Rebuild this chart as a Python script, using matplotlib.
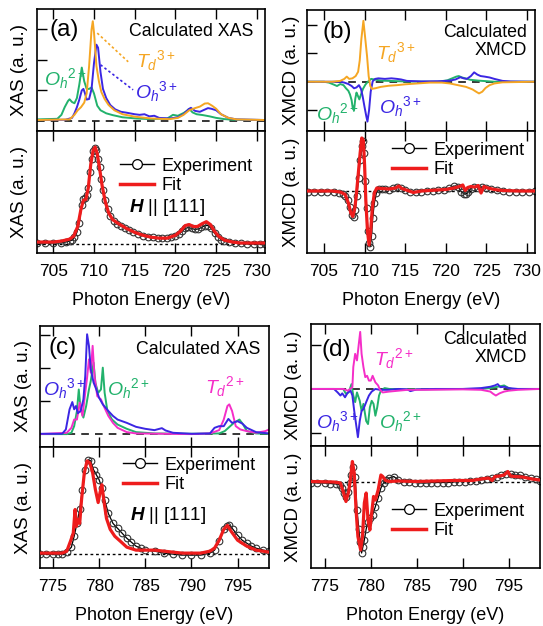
import matplotlib
matplotlib.use('Agg')
import matplotlib.pyplot as plt
from matplotlib.lines import Line2D

plt.rcParams['font.family'] = ['Liberation Sans', 'DejaVu Sans']
plt.rcParams['mathtext.fontset'] = 'custom'
plt.rcParams['mathtext.rm'] = 'Liberation Sans'
plt.rcParams['mathtext.it'] = 'Liberation Sans:italic'
plt.rcParams['mathtext.bf'] = 'Liberation Sans:italic:bold'

GREEN = '#22b26c'
ORANGE = '#f5a623'
BLUE = '#3b26e3'
MAGENTA = '#f52ec8'
RED = '#ee1c1c'

# ---------------- (a) Fe L-edge calculated XAS ----------------
a_oh2_e = [703.0, 705.5, 706.0, 706.4, 706.8, 707.0, 707.3, 707.6, 707.9, 708.2, 708.5, 708.8, 709.1,
           709.4, 709.7, 710.0, 710.4, 710.8, 711.5, 712.3, 713.5, 715.2, 717.0, 719.0, 719.7, 720.3,
           721.0, 721.4, 721.7, 722.1, 722.6, 723.4, 724.2, 725.0, 726.0, 727.0, 731.0]
a_oh2 = [0.05, 0.07, 0.2, 0.45, 0.65, 0.71, 0.62, 0.58, 0.75, 1.2, 1.75, 1.3, 1.05,
         1.05, 1.1, 0.9, 0.5, 0.35, 0.25, 0.19, 0.12, 0.08, 0.06, 0.08, 0.2, 0.17,
         0.26, 0.33, 0.4, 0.28, 0.22, 0.19, 0.15, 0.1, 0.06, 0.04, 0.03]
a_oh3_e = [703.0, 706.5, 707.3, 707.6, 707.9, 708.2, 708.5, 708.7, 708.9, 709.1, 709.4, 709.7, 710.0,
           710.3, 710.5, 710.8, 711.1, 711.5, 712.0, 712.6, 713.3, 714.0, 715.0, 715.6, 716.2, 716.8,
           717.4, 718.0, 719.3, 720.3, 721.0, 721.6, 721.9, 722.4, 723.0, 723.5, 724.0, 724.4, 725.0,
           725.6, 726.5, 727.5, 731.0]
a_oh3 = [0.03, 0.04, 0.1, 0.25, 0.45, 0.7, 1.0, 1.05, 0.9, 0.7, 0.72, 1.05, 1.9,
         2.5, 2.4, 1.6, 1.05, 0.75, 0.52, 0.38, 0.3, 0.27, 0.22, 0.2, 0.22, 0.15,
         0.17, 0.1, 0.08, 0.12, 0.22, 0.38, 0.43, 0.33, 0.3, 0.36, 0.42, 0.4, 0.35,
         0.22, 0.1, 0.05, 0.03]
a_td3_e = [703.0, 707.0, 707.6, 708.0, 708.4, 708.8, 709.1, 709.4, 709.7, 709.85, 710.0, 710.3, 710.6,
           710.9, 711.3, 711.8, 712.5, 713.5, 715.0, 717.0, 719.3, 720.3, 721.0, 721.7, 722.4, 723.0,
           723.6, 724.0, 724.5, 725.0, 725.6, 726.5, 727.5, 731.0]
a_td3 = [0.03, 0.05, 0.2, 0.35, 0.45, 0.6, 0.9, 1.8, 3.0, 3.27, 2.9, 1.8, 1.3,
         0.95, 0.72, 0.52, 0.35, 0.22, 0.14, 0.08, 0.06, 0.1, 0.2, 0.35, 0.42, 0.47,
         0.57, 0.58, 0.5, 0.4, 0.22, 0.1, 0.05, 0.03]

a_exp_e = [703.0, 704.0, 705.0, 706.0, 706.5, 707.0, 707.3, 707.6, 707.9, 708.2, 708.5, 708.7, 708.9,
           709.1, 709.3, 709.5, 709.7, 709.9, 710.1, 710.3, 710.5, 710.7, 710.9, 711.1, 711.4, 711.7,
           712.0, 712.4, 712.8, 713.3, 713.8, 714.3, 714.8, 715.4, 716.0, 716.6, 717.2, 717.8, 718.4,
           719.0, 719.5, 720.0, 720.4, 720.8, 721.2, 721.6, 722.0, 722.4, 722.8, 723.2, 723.6, 724.0,
           724.4, 724.8, 725.2, 725.6, 726.0, 726.6, 727.3, 728.0, 728.8, 729.6, 730.4, 731.0]
a_exp = [0.01, 0.01, 0.01, 0.01, 0.02, 0.03, 0.04, 0.07, 0.12, 0.22, 0.40, 0.46, 0.47,
         0.50, 0.58, 0.74, 0.88, 0.96, 0.99, 0.97, 0.88, 0.79, 0.67, 0.56, 0.45, 0.36,
         0.29, 0.24, 0.21, 0.19, 0.16, 0.14, 0.12, 0.10, 0.085, 0.075, 0.07, 0.06, 0.06,
         0.06, 0.07, 0.08, 0.10, 0.13, 0.16, 0.17, 0.16, 0.15, 0.155, 0.17, 0.19, 0.19,
         0.16, 0.11, 0.075, 0.045, 0.03, 0.02, 0.01, 0.005, 0.0, 0.0, 0.0, 0.0]
a_fit_e = [703.0, 705.0, 706.0, 707.0, 707.5, 708.0, 708.4, 708.7, 709.0, 709.3, 709.6, 709.9, 710.15,
           710.4, 710.7, 711.0, 711.4, 711.8, 712.3, 713.0, 714.0, 715.0, 716.0, 717.0, 718.0, 719.0,
           720.0, 720.6, 721.2, 721.7, 722.2, 722.7, 723.3, 723.8, 724.3, 724.8, 725.3, 726.0, 727.0,
           728.0, 731.0]
a_fit = [0.02, 0.02, 0.03, 0.05, 0.08, 0.18, 0.36, 0.45, 0.46, 0.58, 0.82, 0.97, 1.0,
         0.93, 0.77, 0.6, 0.43, 0.32, 0.25, 0.21, 0.16, 0.12, 0.09, 0.07, 0.06, 0.06,
         0.09, 0.13, 0.19, 0.2, 0.18, 0.18, 0.21, 0.23, 0.2, 0.13, 0.08, 0.04, 0.02,
         0.01, 0.01]

# ---------------- (b) Fe L-edge calculated XMCD ----------------
b_td3_e = [703.0, 706.0, 707.0, 707.5, 707.8, 708.1, 708.5, 708.9, 709.2, 709.4, 709.6, 709.85, 710.05,
           710.3, 710.5, 710.7, 710.9, 711.3, 712.0, 713.0, 714.0, 715.0, 716.5, 718.0, 719.5, 720.5,
           721.5, 722.5, 723.3, 723.8, 724.1, 724.5, 724.9, 725.4, 726.0, 727.0, 731.0]
b_td3 = [0.0, 0.0, 0.03, 0.1, 0.18, 0.1, 0.12, 0.2, 0.35, 0.75, 1.5, 2.14, 1.6,
         0.9, 0.2, -0.15, -0.25, -0.23, -0.18, -0.14, -0.12, -0.09, -0.06, -0.03, -0.03, -0.06,
         -0.12, -0.18, -0.27, -0.36, -0.41, -0.35, -0.22, -0.12, -0.06, -0.02, 0.0]
b_oh2_e = [703.0, 705.0, 705.6, 706.2, 706.6, 707.0, 707.4, 707.7, 708.0, 708.2, 708.4, 708.55, 708.7,
           708.85, 709.0, 709.15, 709.35, 709.55, 709.8, 710.1, 710.4, 710.8, 711.2, 712.0, 713.0, 715.0,
           719.0, 720.2, 720.8, 721.3, 721.6, 722.0, 722.4, 723.0, 724.0, 725.0, 726.0, 731.0]
b_oh2 = [0.0, 0.0, -0.03, -0.1, -0.15, -0.08, -0.12, -0.23, -0.32, -0.45, -0.65, -0.95, -1.0,
         -0.6, -0.38, -0.48, -0.62, -0.45, -0.25, -0.1, 0.0, 0.1, 0.08, 0.04, 0.03, 0.01,
         0.0, 0.05, 0.12, 0.18, 0.2, 0.15, 0.12, 0.07, 0.04, 0.02, 0.0, 0.0]
b_oh3_e = [703.0, 707.0, 707.5, 708.0, 708.4, 708.7, 709.0, 709.3, 709.55, 709.75, 710.0, 710.2, 710.35,
           710.55, 710.75, 711.0, 711.3, 711.7, 712.5, 713.3, 714.0, 714.5, 715.2, 717.0, 719.4, 720.5,
           721.2, 721.8, 722.2, 722.6, 723.1, 723.5, 723.9, 724.3, 724.8, 725.4, 726.0, 727.0, 728.0,
           731.0]
b_oh3 = [0.0, 0.0, -0.03, -0.08, -0.15, -0.23, -0.2, -0.12, -0.25, -0.5, -0.9, -1.2, -1.4,
         -1.0, -0.35, 0.02, 0.1, 0.12, 0.1, 0.12, 0.1, 0.08, 0.03, 0.01, 0.02, 0.04,
         0.08, 0.16, 0.12, 0.1, 0.2, 0.33, 0.25, 0.2, 0.18, 0.15, 0.1, 0.03, 0.01,
         0.0]

b_exp_e = [703.0, 703.8, 704.6, 705.4, 706.2, 706.8, 707.3, 707.6, 707.9, 708.2, 708.45, 708.65, 708.85,
           709.05, 709.25, 709.45, 709.65, 709.8, 709.95, 710.1, 710.25, 710.4, 710.55, 710.7, 710.85,
           711.0, 711.2, 711.45, 711.75, 712.1, 712.5, 713.0, 713.5, 714.0, 714.5, 715.0, 715.6, 716.3,
           717.0, 717.7, 718.4, 719.1, 719.8, 720.4, 721.0, 721.5, 721.9, 722.2, 722.5, 722.8, 723.1,
           723.5, 724.0, 724.5, 725.0, 725.6, 726.3, 727.0, 727.8, 728.6, 729.4, 730.2, 731.0]
b_exp = [-0.02, -0.02, -0.03, -0.02, -0.03, -0.04, -0.06, -0.10, -0.18, -0.33, -0.48, -0.52, -0.38,
         -0.10, 0.25, 0.62, 0.9, 1.0, 0.75, 0.2, -0.35, -0.8, -1.05, -1.12, -0.9,
         -0.55, -0.25, -0.05, 0.03, 0.04, 0.03, 0.02, 0.05, 0.08, 0.05, 0.01, -0.02, -0.02,
         -0.02, -0.01, 0.0, 0.01, 0.02, 0.05, 0.09, 0.08, -0.02, -0.06, -0.07, -0.02, 0.04,
         0.07, 0.06, 0.07, 0.05, 0.03, 0.01, 0.0, -0.02, -0.02, -0.02, -0.02, -0.01]
b_fit_e = [703.0, 706.0, 707.0, 707.6, 708.0, 708.3, 708.55, 708.8, 709.0, 709.2, 709.45, 709.65, 709.85,
           710.0, 710.15, 710.35, 710.55, 710.75, 710.95, 711.2, 711.5, 712.0, 713.0, 713.8, 714.2, 714.6,
           715.3, 716.0, 717.0, 718.0, 719.0, 720.0, 721.0, 721.7, 722.1, 722.4, 722.7, 723.1, 723.6,
           724.0, 724.35, 724.7, 725.2, 726.0, 727.0, 729.0, 731.0]
b_fit = [-0.01, -0.01, -0.03, -0.08, -0.25, -0.45, -0.52, -0.35, -0.05, 0.3, 0.75, 1.05, 1.0,
         0.5, -0.2, -0.8, -1.09, -0.8, -0.35, -0.05, 0.05, 0.04, 0.03, 0.05, 0.09, 0.04,
         0.0, -0.04, -0.01, 0.0, 0.01, 0.02, 0.05, 0.08, 0.11, 0.0, 0.06, 0.08, 0.07,
         0.1, -0.05, 0.08, 0.05, 0.02, 0.0, -0.01, -0.01]

# ---------------- (c) Co L-edge calculated XAS ----------------
c_oh3_e = [773.6, 776.0, 776.4, 776.8, 777.1, 777.3, 777.5, 777.7, 778.0, 778.3, 778.5, 778.7, 778.9,
           779.1, 779.4, 779.7, 780.0, 780.4, 781.0, 781.5, 782.0, 783.0, 784.0, 785.0, 786.0, 786.8,
           787.2, 788.0, 790.0, 792.0, 792.5, 793.0, 793.5, 794.0, 794.4, 795.0, 795.5, 796.0, 797.0,
           798.4]
c_oh3 = [0.02, 0.02, 0.15, 0.76, 0.98, 0.76, 0.86, 0.64, 0.71, 1.06, 1.77, 3.03, 2.68,
         1.97, 1.57, 1.36, 1.11, 0.91, 0.71, 0.56, 0.45, 0.35, 0.23, 0.17, 0.13, 0.19,
         0.12, 0.05, 0.02, 0.03, 0.2, 0.25, 0.25, 0.47, 0.35, 0.4, 0.33, 0.2, 0.07,
         0.03]
c_oh2_e = [773.6, 776.5, 777.0, 777.3, 777.6, 777.8, 778.0, 778.3, 778.6, 778.9, 779.1, 779.4, 779.6,
           779.9, 780.2, 780.4, 780.6, 780.9, 781.4, 782.0, 783.0, 784.0, 786.0, 790.0, 793.0, 793.6,
           794.2, 794.6, 795.2, 795.6, 796.0, 797.0, 798.4]
c_oh2 = [0.01, 0.01, 0.05, 0.25, 0.71, 1.36, 0.76, 0.51, 0.86, 1.36, 1.62, 2.17, 1.56,
         1.26, 1.36, 2.02, 1.26, 0.71, 0.45, 0.3, 0.17, 0.07, 0.03, 0.02, 0.03, 0.1,
         0.25, 0.35, 0.45, 0.3, 0.1, 0.03, 0.02]
c_td2_e = [773.6, 776.5, 777.0, 777.3, 777.6, 777.9, 778.2, 778.5, 778.7, 778.9, 779.1, 779.3, 779.5,
           779.8, 780.2, 780.5, 781.0, 781.5, 782.0, 783.0, 784.0, 790.0, 792.0, 793.0, 793.5, 793.9,
           794.1, 794.4, 794.8, 795.3, 796.0, 797.0, 798.0, 798.4]
c_td2 = [0.01, 0.05, 0.2, 0.45, 0.45, 0.96, 0.56, 1.26, 1.72, 2.27, 1.87, 2.68, 1.77,
         1.16, 1.06, 0.86, 0.56, 0.35, 0.2, 0.07, 0.03, 0.01, 0.03, 0.13, 0.45, 0.86,
         0.91, 0.71, 0.25, 0.15, 0.1, 0.05, 0.1, 0.15]

c_exp_e = [773.6, 774.3, 775.0, 775.6, 776.0, 776.5, 777.0, 777.3, 777.6, 777.9, 778.2, 778.5, 778.8,
           779.1, 779.4, 779.7, 780.0, 780.3, 780.6, 781.0, 781.5, 782.0, 782.5, 783.0, 783.5, 784.0,
           784.5, 785.0, 786.0, 787.0, 788.0, 789.0, 790.0, 791.0, 792.0, 792.5, 793.0, 793.5, 793.8,
           794.1, 794.5, 795.0, 795.5, 796.0, 796.5, 797.0, 797.8, 798.4]
c_exp = [0.0, 0.0, 0.0, 0.0, 0.0, 0.02, 0.07, 0.18, 0.31, 0.45, 0.65, 0.85, 0.95,
         0.94, 0.85, 0.80, 0.75, 0.67, 0.55, 0.41, 0.31, 0.26, 0.21, 0.16, 0.12, 0.08,
         0.06, 0.04, 0.03, 0.01, 0.0, -0.01, -0.01, -0.01, 0.01, 0.04, 0.13, 0.25, 0.28,
         0.29, 0.25, 0.19, 0.14, 0.11, 0.08, 0.06, 0.04, 0.03]
c_fit_e = [773.6, 776.0, 776.5, 776.9, 777.2, 777.4, 777.55, 777.7, 777.9, 778.1, 778.4, 778.7, 779.0,
           779.3, 779.6, 779.9, 780.1, 780.3, 780.5, 780.8, 781.2, 781.7, 782.3, 783.0, 784.0, 785.0,
           786.0, 787.0, 789.0, 791.0, 792.0, 792.5, 793.0, 793.5, 793.9, 794.3, 795.0, 795.5, 796.0,
           797.0, 798.4]
c_fit = [0.01, 0.01, 0.03, 0.13, 0.21, 0.45, 0.28, 0.35, 0.31, 0.55, 0.82, 0.94, 0.92,
         0.82, 0.65, 0.52, 0.62, 0.70, 0.55, 0.36, 0.25, 0.18, 0.13, 0.07, 0.04, 0.04,
         0.04, 0.03, 0.01, 0.01, 0.03, 0.06, 0.14, 0.25, 0.29, 0.23, 0.14, 0.11, 0.08,
         0.04, 0.02]

# ---------------- (d) Co L-edge calculated XMCD ----------------
d_td2_e = [773.5, 777.0, 777.5, 778.0, 778.1, 778.3, 778.5, 778.7, 778.85, 779.0, 779.2, 779.4, 779.6,
           779.8, 780.0, 780.2, 780.5, 780.8, 781.0, 781.3, 782.0, 783.0, 784.0, 786.0, 790.0, 792.0,
           793.0, 793.3, 793.6, 794.0, 794.5, 795.0, 796.0, 798.4]
d_td2 = [0.0, 0.0, -0.04, 0.04, 0.5, 0.8, 0.65, 1.03, 1.3, 0.8, 0.5, 0.27, 0.3,
         0.19, 0.19, 0.3, 0.15, 0.08, -0.02, -0.08, -0.06, -0.04, -0.02, -0.02, -0.01, -0.02,
         -0.06, -0.11, -0.15, -0.1, -0.06, -0.04, -0.02, 0.0]
d_oh3_e = [773.5, 776.0, 776.4, 776.7, 776.9, 777.2, 777.5, 777.8, 778.0, 778.2, 778.4, 778.6, 778.8,
           779.0, 779.2, 779.5, 779.8, 780.1, 780.5, 781.0, 782.0, 783.0, 784.0, 784.3, 785.0, 787.0,
           790.0, 792.0, 793.0, 793.5, 793.8, 794.1, 794.5, 795.0, 796.0, 798.4]
d_oh3 = [0.0, 0.0, -0.08, -0.15, -0.1, -0.19, -0.08, -0.04, -0.15, -0.5, -0.8, -1.1, -0.73,
         -0.5, -0.46, -0.3, -0.15, -0.06, 0.0, -0.02, -0.02, 0.0, -0.01, -0.05, -0.01, 0.0,
         0.0, 0.02, 0.05, 0.08, 0.11, 0.04, 0.05, 0.02, 0.0, 0.0]
d_oh2_e = [773.5, 777.0, 777.3, 777.6, 777.9, 778.1, 778.3, 778.5, 778.8, 779.0, 779.2, 779.5, 779.7,
           779.9, 780.1, 780.3, 780.5, 780.7, 780.9, 781.1, 781.5, 782.0, 784.0, 790.0, 792.0, 793.0,
           793.8, 794.5, 795.0, 795.5, 796.0, 798.4]
d_oh2 = [0.0, 0.0, -0.11, -0.08, 0.11, -0.15, -0.3, -0.08, -0.27, -0.5, -0.34, -0.73, -0.8,
         -0.42, -0.27, -0.34, -0.61, -0.42, -0.15, -0.04, 0.02, 0.0, -0.01, 0.0, 0.0, 0.02,
         0.05, 0.08, 0.02, -0.01, 0.0, 0.0]

d_exp_e = [773.5, 774.2, 775.0, 775.6, 776.2, 776.6, 776.9, 777.1, 777.3, 777.5, 777.7, 777.9, 778.1,
           778.3, 778.5, 778.7, 778.85, 779.0, 779.15, 779.3, 779.5, 779.7, 779.9, 780.2, 780.5, 780.8,
           781.1, 781.4, 781.7, 782.0, 782.5, 783.0, 783.6, 784.2, 784.8, 785.4, 786.0, 786.6, 787.2,
           787.8, 788.4, 789.0, 789.6, 790.2, 790.8, 791.4, 792.0, 792.6, 793.2, 793.7, 794.2, 794.7,
           795.2, 795.7, 796.2, 796.8, 797.4, 798.0, 798.4]
d_exp = [-0.02, -0.03, -0.03, -0.04, -0.05, -0.07, -0.13, -0.22, -0.3, -0.2, -0.03, 0.13, 0.3,
         0.1, -0.57, -0.95, -1.2, -1.43, -1.3, -1.17, -0.95, -0.8, -0.73, -0.67, -0.5, -0.33,
         -0.13, -0.02, 0.03, 0.07, 0.1, 0.03, 0.0, -0.01, -0.02, -0.03, -0.03, -0.02, -0.02,
         -0.02, -0.02, -0.01, 0.0, 0.0, 0.01, 0.02, 0.03, 0.05, 0.07, 0.1, 0.13, 0.16,
         0.15, 0.13, 0.13, 0.1, 0.07, 0.05, 0.02]
d_fit_e = [773.5, 776.0, 776.7, 777.0, 777.3, 777.6, 777.8, 778.0, 778.2, 778.4, 778.6, 778.9, 779.1,
           779.3, 779.5, 779.7, 779.9, 780.1, 780.3, 780.5, 780.8, 781.1, 781.3, 781.6, 782.0, 783.0,
           785.0, 787.0, 789.0, 791.0, 792.0, 792.8, 793.2, 793.5, 794.0, 794.5, 794.9, 795.2, 795.6,
           796.5, 797.5, 798.4]
d_fit = [0.0, -0.01, -0.03, -0.2, -0.4, -0.2, 0.07, 0.4, 0.17, -0.57, -1.1, -1.37, -1.1,
         -0.43, -0.23, -0.77, -0.97, -0.63, -0.3, -0.37, -0.17, 0.13, 0.1, 0.02, 0.0, 0.01,
         0.0, 0.01, 0.02, 0.02, 0.05, 0.07, 0.02, 0.1, 0.11, 0.13, 0.2, 0.11, 0.1,
         0.09, 0.05, 0.03]

FE_TICKS = [705, 710, 715, 720, 725, 730]
CO_TICKS = [775, 780, 785, 790, 795]

W, H = 543, 626


def box(l, t, r, b):
    return [l / W, 1 - b / H, (r - l) / W, (b - t) / H]


def style(ax, xlim, xticks, ylim, yticks, labels):
    ax.set_xlim(xlim)
    ax.set_ylim(ylim)
    ax.set_xticks(xticks)
    ax.set_yticks(yticks)
    ax.tick_params(axis='x', direction='in', top=True, bottom=True, length=7, width=1,
                   labelsize=12.5, pad=8, labelbottom=labels)
    ax.tick_params(axis='y', direction='in', left=True, right=False, length=7, width=1,
                   labelleft=False)
    for s in ax.spines.values():
        s.set_linewidth(1.2)
    if labels:
        ax.set_xlabel('Photon Energy (eV)', fontsize=13, labelpad=9)


def draw_calc(ax, curves, dash=(5, 4)):
    ax.axhline(0, color='k', lw=1.1, ls=(0, dash), zorder=1)
    for e, v, c in curves:
        ax.plot(e, v, color=c, lw=1.4, zorder=2)


def draw_fit(ax, ee, ev, fe, fv, leg_xy, h_xy=None):
    ax.axhline(0, color='k', lw=1.0, ls=(0, (2, 2)), zorder=1)
    ax.plot(ee, ev, color='k', lw=0.9, marker='o', ms=4.8, mfc='none', mec='#333333',
            mew=0.8, zorder=2)
    ax.plot(fe, fv, color=RED, lw=2.3, zorder=3)
    hexp = Line2D([], [], color='k', lw=1.0, marker='o', ms=7, mfc='white', mec='k', mew=0.9)
    hfit = Line2D([], [], color=RED, lw=2.5)
    ax.legend([hexp, hfit], ['Experiment', 'Fit'], loc='center left', bbox_to_anchor=leg_xy,
              frameon=False, fontsize=13, handlelength=1.9, handletextpad=0.4,
              labelspacing=0.15, borderpad=0, borderaxespad=0)
    if h_xy is not None:
        ax.text(h_xy[0], h_xy[1], r'$\mathbf{H}$ || [111]', transform=ax.transAxes,
                fontsize=13.5, ha='left', va='center')


def label(ax, x, y, s, c):
    ax.text(x, y, s, color=c, fontsize=14, ha='left', va='baseline')


fig = plt.figure(figsize=(5.43, 6.26), dpi=100)
axA1 = fig.add_axes(box(37, 9, 265, 131))
axA2 = fig.add_axes(box(37, 131, 265, 253))
axB1 = fig.add_axes(box(307, 10, 535, 131))
axB2 = fig.add_axes(box(307, 131, 535, 253))
axC1 = fig.add_axes(box(40, 326, 269, 447))
axC2 = fig.add_axes(box(40, 447, 269, 568))
axD1 = fig.add_axes(box(311, 324, 540, 446))
axD2 = fig.add_axes(box(311, 446, 540, 568))

# (a)
draw_calc(axA1, [(a_oh2_e, a_oh2, GREEN), (a_oh3_e, a_oh3, BLUE), (a_td3_e, a_td3, ORANGE)])
axA1.plot([710.4, 714.2], [2.88, 1.94], color=ORANGE, lw=1.2, ls=(0, (1.5, 1.5)))
axA1.plot([710.8, 714.8], [1.84, 1.02], color=BLUE, lw=1.2, ls=(0, (1.5, 1.5)))
label(axA1, 703.8, 1.18, r'$O_h{}^{2+}$', GREEN)
label(axA1, 715.2, 1.75, r'$T_d{}^{3+}$', ORANGE)
label(axA1, 715.0, 0.75, r'$O_h{}^{3+}$', BLUE)
style(axA1, (703.0, 731.0), FE_TICKS, (-0.33, 3.67), [1, 2, 3], False)
axA1.text(0.057, 0.92, '(a)', transform=axA1.transAxes, fontsize=17.5, va='top')
axA1.text(0.948, 0.885, 'Calculated XAS', transform=axA1.transAxes, fontsize=12.8,
          ha='right', va='top')
axA1.set_ylabel('XAS (a. u.)', fontsize=13.5)
axA1.yaxis.set_label_coords(-0.04, 0.5)

draw_fit(axA2, a_exp_e, a_exp, a_fit_e, a_fit, (0.364, 0.631), (0.405, 0.369))
style(axA2, (703.0, 731.0), FE_TICKS, (-0.093, 1.165), [], True)
axA2.set_ylabel('XAS (a. u.)', fontsize=13.5)
axA2.yaxis.set_label_coords(-0.04, 0.5)

# (b)
draw_calc(axB1, [(b_oh2_e, b_oh2, GREEN), (b_oh3_e, b_oh3, BLUE), (b_td3_e, b_td3, ORANGE)])
label(axB1, 711.4, 0.8, r'$T_d{}^{3+}$', ORANGE)
label(axB1, 704.0, -1.35, r'$O_h{}^{2+}$', GREEN)
label(axB1, 711.8, -1.1, r'$O_h{}^{3+}$', BLUE)
style(axB1, (702.9, 731.0), FE_TICKS, (-1.73, 2.52), [-1, 1, 2], False)
axB1.text(0.066, 0.91, '(b)', transform=axB1.transAxes, fontsize=17.5, va='top')
axB1.text(0.965, 0.885, 'Calculated\nXMCD', transform=axB1.transAxes, fontsize=12.8,
          ha='right', va='top', linespacing=1.05)
axB1.set_ylabel('XMCD (a. u.)', fontsize=13.5)
axB1.yaxis.set_label_coords(-0.031, 0.5)

draw_fit(axB2, b_exp_e, b_exp, b_fit_e, b_fit, (0.373, 0.762))
style(axB2, (702.9, 731.0), FE_TICKS, (-1.25, 1.19), [], True)
axB2.set_ylabel('XMCD (a. u.)', fontsize=13.5)
axB2.yaxis.set_label_coords(-0.031, 0.5)

# (c)
draw_calc(axC1, [(c_oh2_e, c_oh2, GREEN), (c_td2_e, c_td2, MAGENTA), (c_oh3_e, c_oh3, BLUE)])
label(axC1, 773.9, 1.2, r'$O_h{}^{3+}$', BLUE)
label(axC1, 780.9, 1.2, r'$O_h{}^{2+}$', GREEN)
label(axC1, 791.5, 1.25, r'$T_d{}^{2+}$', MAGENTA)
style(axC1, (773.6, 798.4), CO_TICKS, (-0.38, 3.28), [1, 2, 3], False)
axC1.text(0.035, 0.91, '(c)', transform=axC1.transAxes, fontsize=17.5, va='top')
axC1.text(0.961, 0.875, 'Calculated XAS', transform=axC1.transAxes, fontsize=12.8,
          ha='right', va='top')
axC1.set_ylabel('XAS (a. u.)', fontsize=13.5)
axC1.yaxis.set_label_coords(-0.035, 0.5)

draw_fit(axC2, c_exp_e, c_exp, c_fit_e, c_fit, (0.362, 0.769), (0.393, 0.438))
style(axC2, (773.6, 798.4), CO_TICKS, (-0.14, 1.08), [], True)
axC2.set_ylabel('XAS (a. u.)', fontsize=13.5)
axC2.yaxis.set_label_coords(-0.035, 0.5)

# (d)
draw_calc(axD1, [(d_oh2_e, d_oh2, GREEN), (d_oh3_e, d_oh3, BLUE), (d_td2_e, d_td2, MAGENTA)])
label(axD1, 780.4, 0.55, r'$T_d{}^{2+}$', MAGENTA)
label(axD1, 774.0, -0.9, r'$O_h{}^{3+}$', BLUE)
label(axD1, 780.9, -0.9, r'$O_h{}^{2+}$', GREEN)
style(axD1, (773.5, 798.4), CO_TICKS, (-1.30, 1.48), [-1, 1], False)
axD1.text(0.048, 0.88, '(d)', transform=axD1.transAxes, fontsize=17.5, va='top')
axD1.text(0.943, 0.94, 'Calculated\nXMCD', transform=axD1.transAxes, fontsize=12.8,
          ha='right', va='top', linespacing=1.05)
axD1.set_ylabel('XMCD (a. u.)', fontsize=13.5)
axD1.yaxis.set_label_coords(-0.039, 0.5)

draw_fit(axD2, d_exp_e, d_exp, d_fit_e, d_fit, (0.354, 0.385))
style(axD2, (773.5, 798.4), CO_TICKS, (-1.73, 0.71), [], True)
axD2.set_ylabel('XMCD (a. u.)', fontsize=13.5)
axD2.yaxis.set_label_coords(-0.039, 0.5)

fig.savefig('out.png', dpi=100)
